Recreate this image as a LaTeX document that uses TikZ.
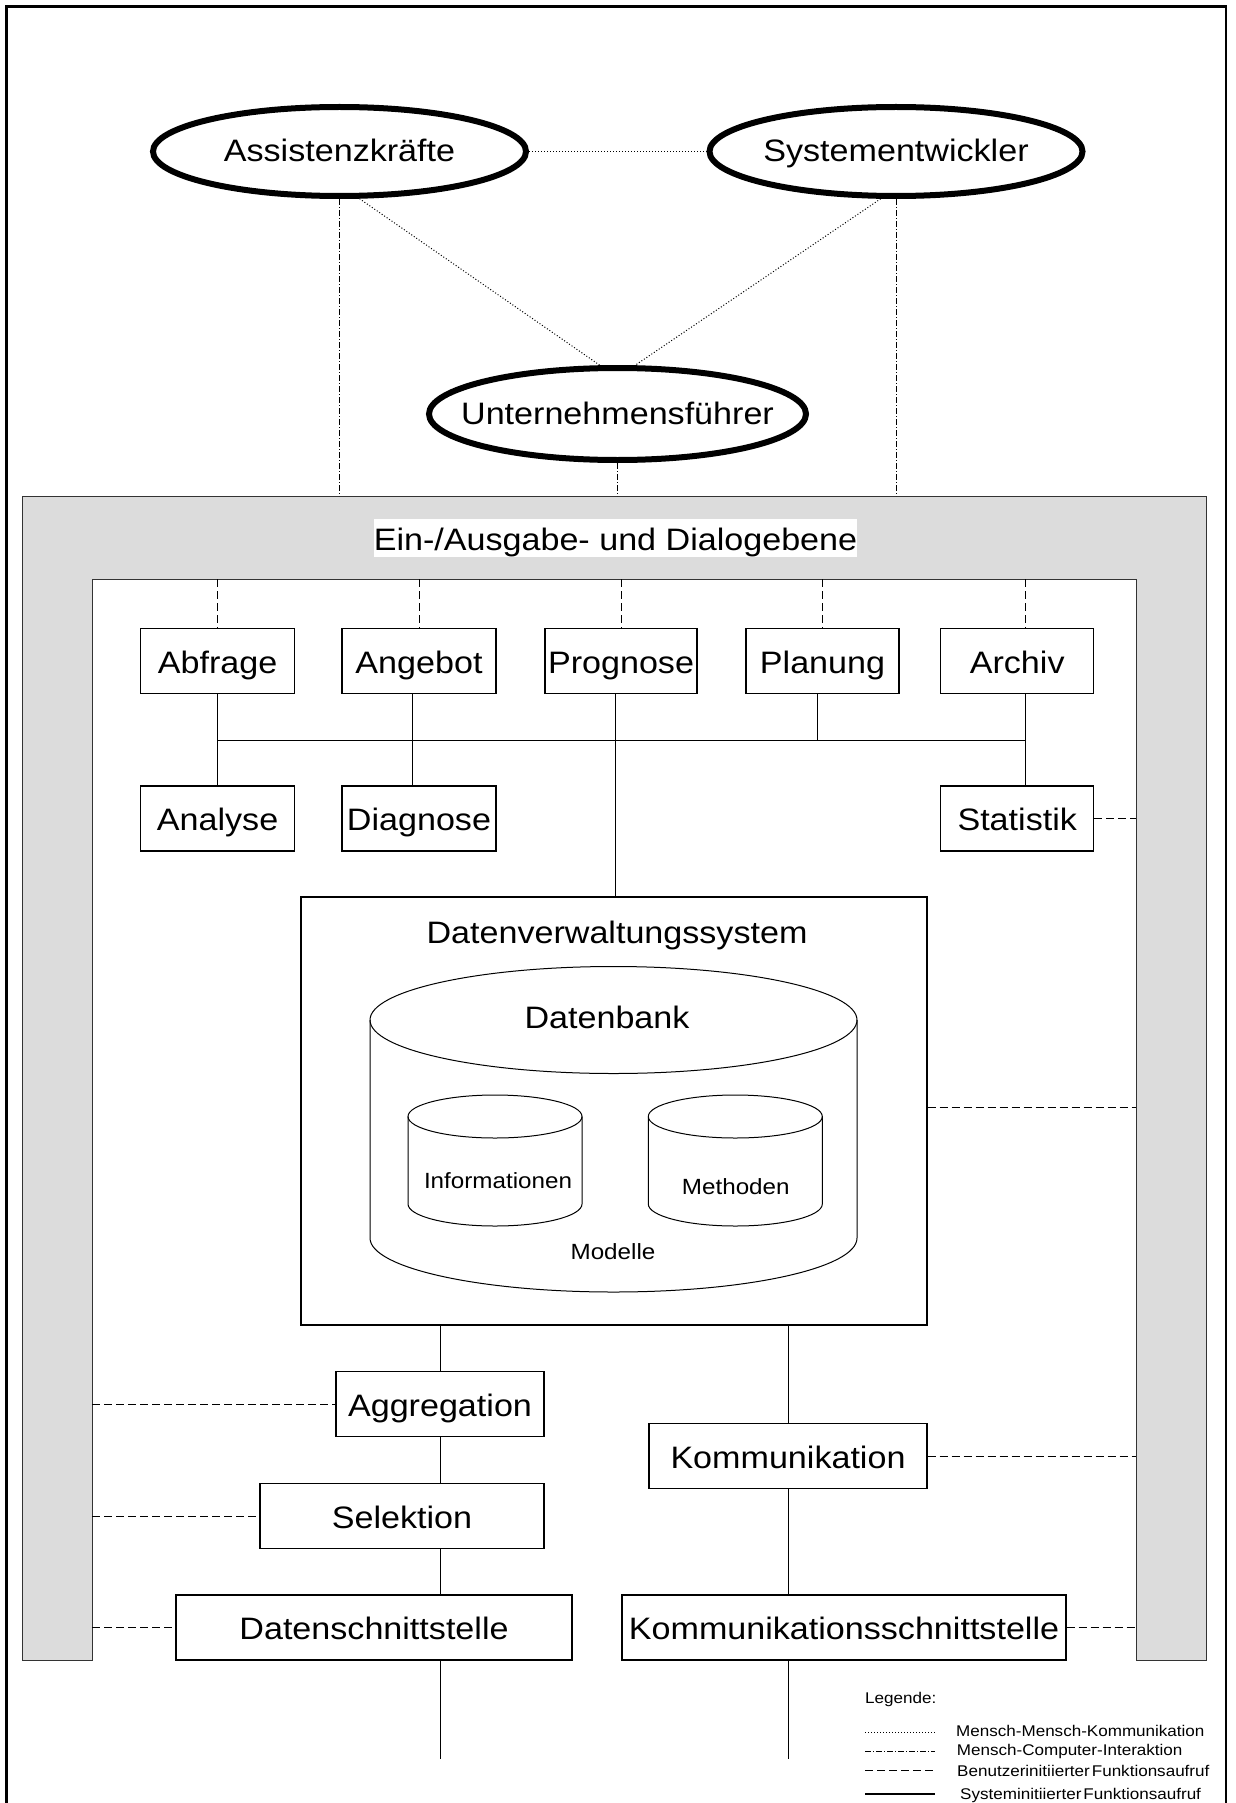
\documentclass[tikz,border=0pt]{standalone}
\usepackage{fontspec}
\setmainfont{Liberation Sans}[FakeStretch=1.1]
\usetikzlibrary{shapes.geometric}
\definecolor{framegray}{RGB}{220,220,220}
\begin{document}
\begin{tikzpicture}[x=1pt,y=-1pt,
  % connector styles, one per kind of link
  mmk/.style={line width=1pt, dash pattern=on 1pt off 2pt},
  mci/.style={line width=1pt, dash pattern=on 6pt off 2pt on 1pt off 2pt},
  bfa/.style={line width=1pt, dash pattern=on 8pt off 4pt},
  sfa/.style={line width=1pt},
  bigfont/.style={font=\fontsize{31}{36}\selectfont},
  smallfont/.style={font=\fontsize{22}{26}\selectfont},
  legfont/.style={font=\fontsize{15.5}{18}\selectfont},
  box/.style={draw, line width=1.3pt, inner sep=0pt, minimum height=65pt,
    bigfont, text height=26pt, text depth=2pt},
  person/.style={draw, ellipse, line width=6pt, inner sep=0pt,
    minimum width=373pt, minimum height=89pt},
  persontext/.style={inner sep=0pt, bigfont, text height=24pt, text depth=3pt},
  cyl/.style={line width=1pt}
]
\clip (0,0) rectangle (1235,1803);
\fill[white] (0,0) rectangle (1235,1803);

% outer frame (open at the bottom)
\draw[line width=2.5pt] (6.5,1815) -- (6.5,6.5) -- (1226,6.5) -- (1226,1815);

% reference coordinates of the dialogue layer
\coordinate (ioTop) at (0,496);
\coordinate (inTop) at (0,579);
\coordinate (inL) at (92,0);
\coordinate (inR) at (1136,0);
\coordinate (bus) at (0,740);
\coordinate (endL) at (0,1759);

% dialogue layer frame
\draw[line width=1pt, draw=black!80, fill=framegray]
  (22.5,1660) -- (22.5,496) -- (1206,496) -- (1206,1660) -- (1136,1660)
  -- (1136,579) -- (92,579) -- (92,1660) -- cycle;
\node[fill=white, inner sep=0pt, minimum width=483pt, minimum height=38pt,
  bigfont, text height=26pt, text depth=2pt] (io) at (615.5,538)
  {Ein-/Ausgabe- und Dialogebene};

% people
\node[person] (ass) at (339.5,151.5) {};
\node[persontext] (assT) at (ass.center) {Assistenzkräfte};
\node[person] (sys) at (896,151.5) {};
\node[persontext] (sysT) at (sys.center) {Systementwickler};
\node[person, minimum width=377pt, minimum height=92pt] (uf) at (617.5,414) {};
\node[persontext] (ufT) at (uf.center) {Unternehmensführer};

\draw[mmk] (ass.east) -- (sys.west);
\draw[mmk] (ass.-67) -- (uf.110);
\draw[mmk] (sys.-108) -- (uf.70);
\draw[mci] (ass.south) -- (ass.south |- ioTop);
\draw[mci] (sys.south) -- (sys.south |- ioTop);
\draw[mci] (uf.south) -- (uf.south |- ioTop);

% function modules
\node[box, minimum width=154pt] (abf) at (217.6,661) {Abfrage};
\node[box, minimum width=154pt] (ang) at (419,661) {Angebot};
\node[box, minimum width=152pt] (prg) at (621,661) {Prognose};
\node[box, minimum width=153pt] (pla) at (822.5,661) {Planung};
\node[box, minimum width=153pt] (arc) at (1017.2,661) {Archiv};
\node[box, minimum width=154pt] (ana) at (217.6,818.5) {Analyse};
\node[box, minimum width=154pt] (dia) at (419,818.5) {Diagnose};
\node[box, minimum width=153pt] (sta) at (1017.2,818.5) {Statistik};

\coordinate (angX) at ([xshift=-7pt]ang.south);
\coordinate (prgX) at ([xshift=-6pt]prg.south);
\coordinate (plaX) at ([xshift=-5pt]pla.south);
\coordinate (arcX) at ([xshift=8.5pt]arc.south);
\coordinate (arcD) at ([xshift=8.5pt]arc.north);

\draw[bfa] (abf.north |- inTop) -- (abf.north);
\draw[bfa] (ang.north |- inTop) -- (ang.north);
\draw[bfa] (prg.north |- inTop) -- (prg.north);
\draw[bfa] (pla.north |- inTop) -- (pla.north);
\draw[bfa] (arcD |- inTop) -- (arcD);

\draw[sfa] (abf.south |- bus) -- (arcX |- bus);
\draw[sfa] (abf.south) -- (ana.north);
\draw[sfa] (angX) -- (angX |- dia.north);
\draw[sfa] (plaX) -- (plaX |- bus);
\draw[sfa] (arcX) -- (arcX |- sta.north);
\draw[bfa] (sta.east) -- (sta.east -| inR);

% data management system
\node[draw, line width=1.3pt, minimum width=626pt, minimum height=428pt] (dvs) at (614,1111) {};
\draw[sfa] (prgX) -- (prgX |- dvs.north);
\node[bigfont, anchor=base] (dvst) at (617,943) {Datenverwaltungssystem};

% database cylinder
\draw[cyl] (613.5,1020) ellipse [x radius=243.5pt, y radius=53.5pt];
\draw[cyl] (370,1020) -- (370,1238)
  arc[start angle=180, end angle=360, x radius=243.5pt, y radius=54pt] -- (857,1020);
\node[bigfont, anchor=base] (db) at (607,1028) {Datenbank};

% inner cylinders
\draw[cyl] (495,1116.5) ellipse [x radius=87pt, y radius=21.5pt];
\draw[cyl] (408,1116.5) -- (408,1204)
  arc[start angle=180, end angle=360, x radius=87pt, y radius=22pt] -- (582,1116.5);
\node[smallfont, anchor=base] (inf) at (498,1188) {Informationen};

\draw[cyl] (735.3,1116.5) ellipse [x radius=87pt, y radius=21.5pt];
\draw[cyl] (648.3,1116.5) -- (648.3,1204)
  arc[start angle=180, end angle=360, x radius=87pt, y radius=22pt] -- (822.3,1116.5);
\node[smallfont, anchor=base] (met) at (735.8,1194) {Methoden};

\node[smallfont, anchor=base] (mod) at (613,1259) {Modelle};

\coordinate (dvsR) at ([yshift=3.3pt]dvs.east);
\draw[bfa] (dvsR) -- (dvsR -| inR);

% lower modules
\node[box, minimum width=208pt] (agg) at (440,1404) {Aggregation};
\node[box, minimum width=284pt] (sel) at (402,1516) {Selektion};
\node[box, minimum width=396pt] (ds) at (374,1627.5) {Datenschnittstelle};
\node[box, minimum width=278pt] (kom) at (788,1456) {Kommunikation};
\node[box, minimum width=444pt] (ks) at (844,1627.5) {Kommunikationsschnittstelle};

\draw[sfa] (agg.north |- dvs.south) -- (agg.north);
\draw[sfa] (agg.south) -- (agg.south |- sel.north);
\draw[sfa] (agg.south |- sel.south) -- (agg.south |- ds.north);
\draw[sfa] (agg.south |- ds.south) -- (agg.south |- endL);
\draw[sfa] (kom.north |- dvs.south) -- (kom.north);
\draw[sfa] (kom.south) -- (kom.south |- ks.north);
\draw[sfa] (kom.south |- ks.south) -- (kom.south |- endL);

\draw[bfa] (agg.west -| inL) -- (agg.west);
\draw[bfa] (sel.west -| inL) -- (sel.west);
\draw[bfa] (ds.west -| inL) -- (ds.west);
\draw[bfa] (kom.east) -- (kom.east -| inR);
\draw[bfa] (ks.east) -- (ks.east -| inR);

% legend
\node[legfont, anchor=base west, inner sep=0pt] (legT) at (865,1703.5) {Legende:};
\coordinate (l1a) at (865,1732.3); \coordinate (l1b) at (935,1732.3);
\coordinate (l2a) at (865,1751);   \coordinate (l2b) at (935,1751);
\coordinate (l3a) at (865,1770.7); \coordinate (l3b) at (935,1770.7);
\coordinate (l4a) at (865,1794);   \coordinate (l4b) at (935,1794);
\draw[mmk] (l1a) -- (l1b);
\draw[mci] (l2a) -- (l2b);
\draw[bfa] (l3a) -- (l3b);
\draw[sfa, line width=1.5pt] (l4a) -- (l4b);
\node[legfont, anchor=base west, inner sep=0pt] (leg1) at (956,1736.7) {Mensch-Mensch-Kommunikation};
\node[legfont, anchor=base west, inner sep=0pt] (leg2) at (956.7,1755.7) {Mensch-Computer-Interaktion};
\node[legfont, anchor=base west, inner sep=0pt] (leg3) at (957,1776) {Benutzerinitiierter\hspace{2pt}Funktionsaufruf};
\node[legfont, anchor=base west, inner sep=0pt] (leg4) at (960,1799.5) {Systeminitiierter\hspace{2pt}Funktionsaufruf};
\end{tikzpicture}
\end{document}
